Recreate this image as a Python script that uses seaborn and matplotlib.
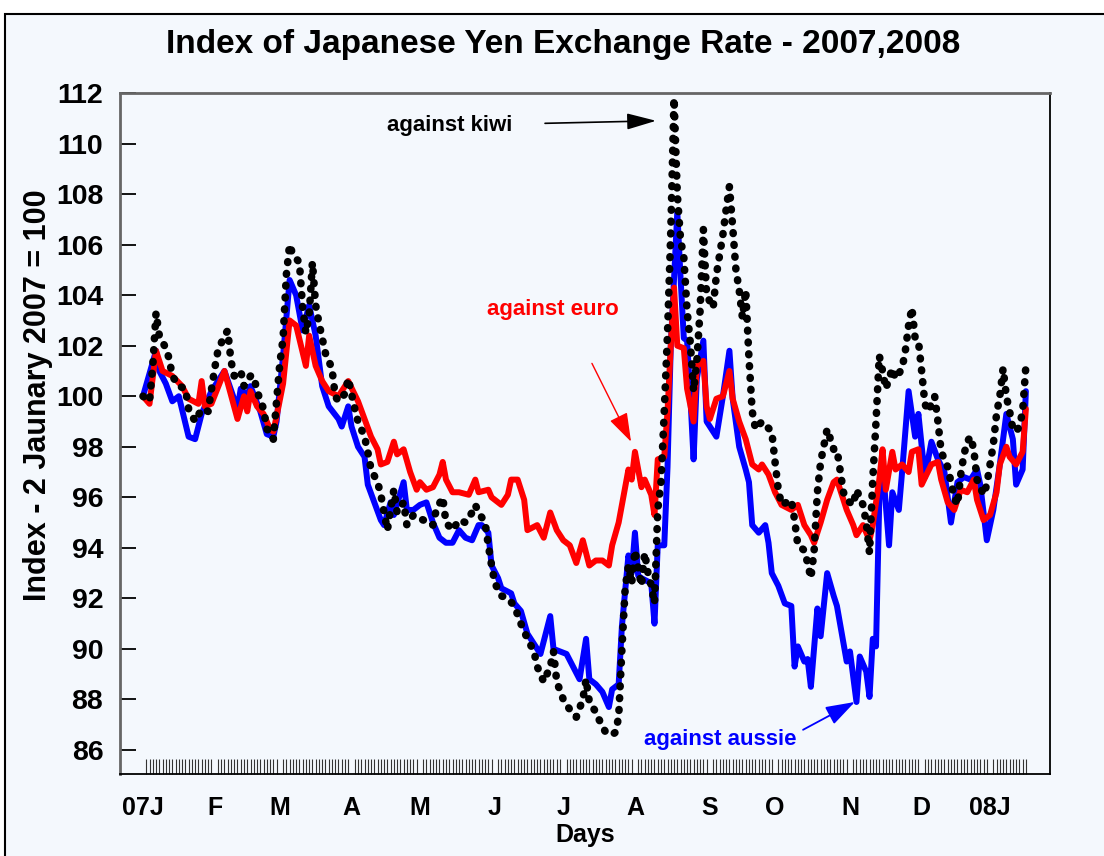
import matplotlib
matplotlib.use("Agg")
import matplotlib.pyplot as plt
from matplotlib.patches import Rectangle
import pandas as pd
import seaborn as sns

# x = business days counted from 2 January 2007 (day 0), y = index value
aussie_day = [0, 4, 5, 7, 9, 11, 14, 16, 18, 21, 25, 29, 30, 32, 33, 36, 38, 40, 41, 43, 45, 47, 49, 51, 53, 55, 57,
              60, 61, 63, 64, 66, 68, 69, 71, 73, 74, 76, 77, 80, 81, 83, 85, 87, 89, 91, 93, 95, 97, 99, 101, 103,
              104, 106, 107, 109, 110, 113, 114, 116, 118, 120, 122, 125, 126, 130, 132, 134, 136, 137, 139, 141,
              143, 144, 146, 147, 149, 150, 151, 152, 153, 156, 157, 158, 160, 161, 162, 164, 165, 166, 167, 168,
              169, 170, 172, 173, 176, 178, 180, 181, 183, 185, 186, 187, 189, 191, 192, 193, 195, 197, 199, 200,
              201, 203, 204, 205, 207, 208, 210, 212, 213, 216, 217, 219, 220, 222, 223, 224, 225, 226, 227, 229,
              230, 232, 233, 235, 237, 238, 240, 242, 244, 246, 248, 250, 252, 254, 256, 257, 259, 261, 263, 265,
              267, 268, 270, 271]
aussie_val = [100.0, 101.8, 101.0, 100.5, 99.8, 100.0, 98.4, 98.3, 99.3, 100.2, 101.0, 99.5, 100.3, 100.0, 100.4,
              99.4, 98.5, 98.4, 99.0, 101.6, 104.6, 104.0, 102.6, 103.6, 102.4, 100.4, 99.6, 99.1, 98.8, 99.6, 98.8,
              98.0, 97.6, 96.5, 95.8, 95.1, 94.9, 95.8, 95.3, 96.6, 95.5, 95.5, 95.7, 95.8, 95.0, 94.4, 94.2, 94.2,
              94.7, 94.4, 94.3, 94.9, 94.9, 94.6, 93.3, 92.8, 92.4, 92.2, 91.8, 91.5, 90.6, 90.2, 89.8, 91.3, 90.0,
              89.8, 89.3, 88.8, 90.4, 88.8, 88.6, 88.3, 87.7, 88.4, 88.6, 90.9, 93.7, 93.0, 94.6, 92.9, 92.8, 92.6,
              91.0, 94.1, 94.1, 97.2, 102.0, 107.3, 104.7, 102.3, 102.2, 100.0, 97.5, 100.7, 102.2, 99.0, 98.4,
              100.0, 101.8, 99.9, 98.0, 97.1, 96.6, 94.9, 94.6, 94.9, 94.2, 93.0, 92.5, 91.8, 91.7, 89.3, 90.1,
              89.5, 89.6, 88.5, 91.6, 90.5, 93.0, 92.1, 91.7, 89.5, 89.9, 87.9, 89.7, 89.1, 88.1, 90.4, 90.1, 95.9,
              97.3, 94.1, 96.2, 95.5, 97.0, 100.2, 98.4, 99.3, 96.8, 98.2, 97.5, 97.0, 95.0, 96.6, 96.8, 96.7, 97.1,
              96.5, 94.3, 95.5, 97.3, 99.3, 98.3, 96.5, 97.1, 100.2]

euro_day = [0, 2, 4, 6, 9, 12, 14, 17, 18, 19, 21, 25, 29, 31, 32, 33, 35, 37, 39, 40, 41, 43, 45, 47, 50, 51, 53,
            55, 57, 60, 63, 66, 68, 70, 72, 73, 75, 77, 78, 80, 82, 84, 85, 87, 89, 91, 92, 93, 95, 97, 100, 102,
            103, 106, 107, 110, 112, 113, 115, 117, 118, 121, 123, 125, 127, 129, 131, 133, 135, 137, 139, 141, 143,
            144, 146, 149, 150, 151, 153, 154, 156, 157, 158, 160, 161, 162, 163, 164, 166, 167, 169, 170, 172, 173,
            174, 176, 178, 180, 181, 183, 185, 187, 189, 190, 192, 194, 196, 199, 201, 203, 205, 206, 208, 210, 212,
            213, 215, 216, 218, 219, 221, 223, 224, 226, 227, 228, 230, 231, 233, 235, 236, 238, 239, 242, 244, 245,
            247, 249, 251, 253, 255, 256, 258, 260, 262, 263, 265, 266, 268, 270, 271]
euro_val = [100.0, 99.7, 101.8, 101.0, 100.8, 100.4, 99.9, 99.7, 100.6, 99.6, 99.7, 101.0, 99.1, 100.0, 99.4, 100.2,
            99.6, 99.3, 98.7, 98.6, 99.2, 100.5, 103.0, 102.8, 101.2, 102.4, 101.2, 100.6, 100.2, 100.0, 100.6, 99.8,
            99.1, 98.4, 97.9, 97.3, 97.4, 98.2, 97.7, 97.9, 97.0, 96.3, 96.6, 96.3, 96.4, 96.9, 97.4, 96.7, 96.2,
            96.2, 96.1, 96.7, 96.2, 96.3, 96.0, 95.7, 96.1, 96.7, 96.7, 95.9, 94.7, 94.9, 94.4, 95.4, 94.7, 94.3,
            94.1, 93.4, 94.3, 93.3, 93.5, 93.5, 93.3, 94.1, 95.0, 97.1, 96.7, 97.8, 96.4, 96.7, 96.1, 95.3, 97.5,
            97.6, 99.4, 102.0, 104.3, 102.0, 101.9, 100.3, 99.0, 101.2, 101.4, 99.6, 99.1, 99.9, 100.0, 101.0, 99.9,
            99.0, 98.3, 97.3, 97.1, 97.3, 96.9, 96.2, 95.7, 95.5, 95.7, 94.9, 94.5, 94.2, 95.0, 95.9, 96.6, 96.7,
            95.9, 95.5, 94.9, 94.5, 94.9, 94.3, 94.9, 96.7, 97.9, 96.3, 97.8, 97.1, 97.3, 97.0, 97.8, 97.9, 96.5,
            97.3, 97.4, 96.7, 95.8, 95.5, 96.3, 96.2, 96.7, 95.9, 95.1, 95.3, 96.2, 97.3, 98.0, 97.6, 97.3, 97.8,
            99.5]

kiwi_day = [0, 2, 3, 4, 5, 7, 8, 9, 11, 13, 14, 16, 18, 20, 22, 23, 25, 26, 27, 28, 30, 31, 33, 34, 35, 37, 38, 39,
            40, 41, 42, 43, 44, 45, 46, 48, 49, 50, 51, 52, 53, 54, 56, 58, 59, 60, 62, 63, 65, 66, 68, 69, 70, 72,
            73, 74, 75, 77, 78, 80, 81, 83, 86, 87, 89, 90, 92, 93, 95, 97, 99, 101, 102, 103, 105, 106, 107, 108,
            110, 112, 114, 116, 118, 120, 121, 123, 125, 126, 127, 129, 131, 133, 135, 136, 137, 139, 140, 142, 144,
            145, 146, 147, 148, 149, 150, 151, 153, 154, 155, 156, 157, 158, 159, 160, 161, 162, 163, 164, 165, 166,
            167, 168, 169, 170, 171, 172, 173, 175, 176, 178, 179, 180, 181, 182, 183, 184, 185, 186, 187, 188, 190,
            193, 194, 195, 196, 199, 200, 201, 203, 204, 205, 206, 207, 208, 210, 212, 213, 215, 216, 218, 219, 221,
            222, 223, 224, 225, 226, 227, 228, 230, 231, 233, 234, 235, 236, 237, 238, 239, 240, 241, 243, 244, 245,
            247, 248, 249, 250, 251, 252, 253, 254, 255, 256, 258, 259, 260, 261, 262, 263, 264, 265, 266, 267, 268,
            269, 270, 271]
kiwi_val = [100.0, 99.8, 101.2, 103.3, 102.4, 101.9, 101.5, 100.8, 100.4, 100.3, 99.5, 99.0, 99.5, 99.4, 101.1,
            101.8, 102.4, 102.6, 101.4, 100.8, 101.0, 100.4, 100.8, 100.8, 100.2, 99.5, 98.7, 98.6, 98.3, 99.8,
            101.3, 102.3, 104.8, 106.0, 105.6, 105.3, 103.5, 102.5, 103.2, 105.3, 103.6, 102.9, 101.7, 101.1, 100.0,
            99.8, 100.1, 100.7, 99.5, 99.0, 98.4, 97.8, 97.1, 96.6, 96.1, 95.4, 94.7, 96.3, 95.4, 95.8, 94.9, 95.3,
            95.1, 95.1, 94.9, 95.5, 96.0, 95.0, 94.7, 95.1, 95.0, 95.4, 95.7, 95.4, 95.0, 94.1, 93.3, 92.6, 92.1,
            92.0, 91.7, 91.0, 90.4, 89.9, 89.3, 88.7, 89.3, 89.9, 88.7, 88.0, 87.6, 87.3, 88.0, 88.8, 87.9, 87.5,
            87.2, 86.7, 86.6, 86.7, 87.3, 90.0, 92.4, 93.3, 92.6, 93.9, 92.5, 93.8, 93.0, 92.5, 91.8, 95.5, 96.6,
            99.4, 102.5, 106.5, 111.8, 108.0, 106.2, 105.5, 103.4, 102.1, 100.2, 101.4, 103.4, 106.6, 104.0, 103.5,
            104.8, 106.4, 107.4, 108.3, 106.7, 105.0, 104.2, 103.1, 104.2, 101.5, 99.4, 98.7, 99.0, 98.6, 97.4, 96.3,
            95.7, 95.9, 95.1, 94.1, 93.9, 93.4, 92.8, 93.9, 96.2, 97.4, 98.7, 97.9, 97.9, 96.2, 95.9, 95.7, 96.3,
            95.7, 95.0, 93.8, 96.7, 99.0, 101.6, 101.0, 100.3, 101.1, 100.7, 101.1, 101.8, 102.8, 103.5, 102.3,
            102.2, 101.0, 99.7, 99.4, 100.0, 99.0, 97.8, 97.2, 96.6, 96.0, 95.7, 96.9, 97.7, 98.2, 98.4, 97.9, 96.7,
            96.1, 96.5, 97.3, 98.1, 99.3, 100.0, 101.1, 100.0, 99.4, 98.7, 98.6, 98.8, 99.4, 101.2]

month_labels = ["07J", "F", "M", "A", "M", "J", "J", "A", "S", "O", "N", "D", "08J"]
y_ticks = list(range(86, 113, 2))

bdays = pd.bdate_range("2007-01-02", "2008-01-16")
month_pos = [i for i in range(len(bdays)) if i == 0 or bdays[i].month != bdays[i - 1].month]

bg = "#f4f8fd"
sns.set_style("white")
plt.rcParams["font.family"] = ["Liberation Sans", "DejaVu Sans"]
plt.rcParams["text.color"] = "black"
plt.rcParams["xtick.color"] = "black"
plt.rcParams["ytick.color"] = "black"
plt.rcParams["axes.labelcolor"] = "black"

fig = plt.figure(figsize=(11.04, 8.56), dpi=100, facecolor="white")
fig.add_artist(Rectangle((5 / 1104, -0.05), 1.1, 1.05 - 14 / 856, transform=fig.transFigure,
                         facecolor=bg, edgecolor="black", linewidth=1.5, zorder=-10))
ax = fig.add_axes([120 / 1104, 1 - 774 / 856, 930 / 1104, 681 / 856])
ax.set_facecolor(bg)

aussie = pd.DataFrame({"day": aussie_day, "index": aussie_val})
euro = pd.DataFrame({"day": euro_day, "index": euro_val})
kiwi = pd.DataFrame({"day": kiwi_day, "index": kiwi_val})

sns.lineplot(data=aussie, x="day", y="index", ax=ax, color="#0000ff", linewidth=4.3,
             estimator=None, sort=False, solid_joinstyle="round", solid_capstyle="round")
sns.lineplot(data=euro, x="day", y="index", ax=ax, color="#ff0000", linewidth=4.3,
             estimator=None, sort=False, solid_joinstyle="round", solid_capstyle="round")
sns.lineplot(data=kiwi, x="day", y="index", ax=ax, color="black", linewidth=5.5,
             linestyle=(0, (0.1, 1.45)), dash_capstyle="round",
             estimator=None, sort=False)

ax.set_xlim(-7.06, 278.4)
ax.set_ylim(85.05, 112)
ax.set_xlabel("")
ax.set_ylabel("")

ax.set_yticks(y_ticks)
ax.set_yticklabels([str(v) for v in y_ticks], fontsize=20.5, fontweight="bold", color="black")
ax.tick_params(axis="y", which="major", left=True, right=False, direction="in",
               length=11.5, width=1.3, color="black", pad=12)

ax.set_xticks(month_pos)
ax.set_xticklabels(month_labels, fontsize=18, fontweight="bold", color="black")
ax.set_xticks(range(len(bdays)), minor=True)
ax.tick_params(axis="x", which="major", bottom=True, length=0, pad=16)
ax.tick_params(axis="x", which="minor", bottom=True, top=False, direction="in",
               length=10.5, width=0.8, color="#333333")

for side in ["left", "top"]:
    ax.spines[side].set_color("#666666")
    ax.spines[side].set_linewidth(2)
for side in ["right", "bottom"]:
    ax.spines[side].set_color("black")
    ax.spines[side].set_linewidth(1.3)

ax.annotate("against kiwi", xy=(94, 110.73), ha="center", va="center",
            fontsize=16, fontweight="bold", color="black")
ax.annotate("", xy=(157.5, 110.9), xytext=(123.4, 110.8),
            arrowprops=dict(arrowstyle="-|>,head_length=0.9,head_width=0.25", color="black",
                            lw=1.2, mutation_scale=20, shrinkA=0, shrinkB=0))
ax.annotate("against euro", xy=(125.8, 103.45), ha="center", va="center",
            fontsize=16, fontweight="bold", color="#ff0000")
ax.annotate("", xy=(149.8, 98.2), xytext=(137.8, 101.3),
            arrowprops=dict(arrowstyle="-|>,head_length=0.9,head_width=0.3", color="#ff0000",
                            lw=1, mutation_scale=20, shrinkA=0, shrinkB=0))
ax.annotate("against aussie", xy=(177.1, 86.43), ha="center", va="center",
            fontsize=16, fontweight="bold", color="#0000ff")
ax.annotate("", xy=(218.5, 87.9), xytext=(202.6, 86.8),
            arrowprops=dict(arrowstyle="-|>,head_length=0.9,head_width=0.3", color="#0000ff",
                            lw=1.3, mutation_scale=20, shrinkA=0, shrinkB=0))

fig.text(563 / 1104, 1 - 45 / 856, "Index of Japanese Yen Exchange Rate - 2007,2008",
         ha="center", va="center", fontsize=24, fontweight="bold", color="black",
         family=["Liberation Sans Narrow", "Liberation Sans", "DejaVu Sans"])
fig.text(38 / 1104, 1 - 395 / 856, "Index - 2 Jaunary 2007 = 100", rotation=90,
         ha="center", va="center", fontsize=22, fontweight="bold", color="black")
fig.text(585 / 1104, 1 - 835 / 856, "Days", ha="center", va="center",
         fontsize=18, fontweight="bold", color="black")

fig.savefig("out.png", dpi=100, facecolor="white")
